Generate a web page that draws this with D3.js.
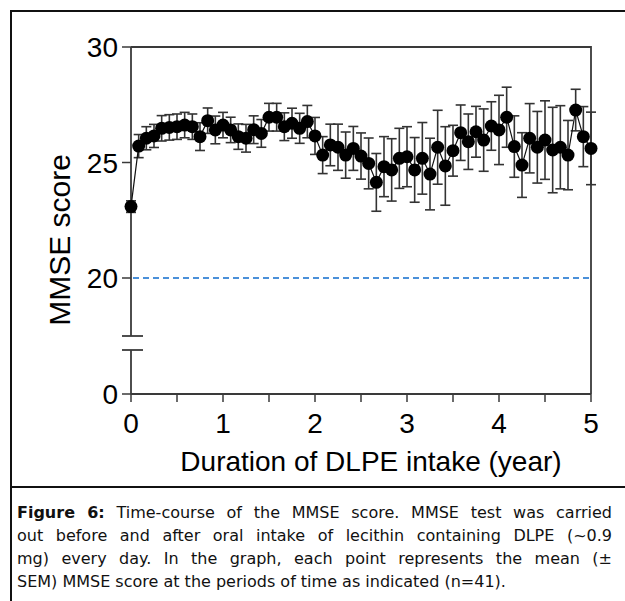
<!DOCTYPE html>
<head>
<style>
    body { margin: 0; background: white; }
    #caption { position: absolute; left: 17px; top: 501px; width: 595px;
        font-family: "DejaVu Sans", sans-serif; font-size: 16px; line-height: 23px; color: #111; }
    #caption span { display: block; text-align: justify; text-align-last: justify; white-space: nowrap; }
    #caption span.last { text-align-last: left; }
</style>
</head>

<body>
    <svg id="container" height="601" width="625"></svg>
    <div id="caption">
        <span><b>Figure 6:</b> Time-course of the MMSE score. MMSE test was carried</span>
        <span>out before and after oral intake of lecithin containing DLPE (~0.9</span>
        <span>mg) every day. In the graph, each point represents the mean (±</span>
        <span class="last">SEM) MMSE score at the periods of time as indicated (n=41).</span>
    </div>
</body>

<script src="https://d3js.org/d3.v7.min.js"></script>
<script>

    // months since start of intake
    let months = [0,1,2,3,4,5,6,7,8,9,10,11,12,13,14,15,16,17,18,19,20,
        21,22,23,24,25,26,27,28,29,30,31,32,33,34,35,36,37,38,39,40,
        41,42,43,44,45,46,47,48,49,50,51,52,53,54,55,56,57,58,59,60]

    let meanScore = [23.09,25.71,26.05,26.15,26.48,26.52,26.55,26.62,26.55,26.12,26.81,
        26.41,26.62,26.41,26.12,26.05,26.42,26.26,26.96,26.96,26.55,
        26.70,26.48,26.77,26.15,25.32,25.76,25.66,25.32,25.61,25.28,
        24.96,24.14,24.82,24.68,25.18,25.25,24.68,25.18,24.50,25.66,
        24.85,25.51,26.29,25.90,26.33,25.97,26.58,26.41,26.96,25.69,
        24.89,26.05,25.66,25.97,25.54,25.66,25.32,27.27,26.12,25.61]

    let semScore = [0.25,0.5,0.5,0.5,0.55,0.55,0.55,0.55,0.55,0.6,0.55,
        0.6,0.55,0.55,0.55,0.6,0.6,0.6,0.6,0.6,0.6,
        0.65,0.65,0.7,0.8,0.8,0.9,1.0,1.0,0.95,1.0,
        1.1,1.25,1.3,1.35,1.3,1.3,1.4,1.55,1.55,1.6,
        1.7,1.1,1.2,1.2,1.1,1.35,1.05,1.5,1.3,1.33,
        1.4,1.5,1.55,1.7,1.85,1.8,1.5,0.9,1.3,1.57]

    let xTicks = [0,0.5,1,1.5,2,2.5,3,3.5,4,4.5,5]
    let xLabels = [0,1,2,3,4,5]
    let yTicksUpper = [20,25,30]
    let cutoff = 20

    let svg = d3.select("#container")

    let pLeft = 131, pRight = 591, pTop = 47, pBottom = 394
    let breakTop = 336, breakBottom = 350

    let x = d3.scaleLinear().domain([0,5]).range([pLeft,pRight])
    let y = d3.scaleLinear().domain([20,30]).range([278,pTop])
    let yLow = d3.scaleLinear().domain([0,1]).range([pBottom,pBottom-23.1])

    let axisColor = "#3a3a3a"
    let font = "Liberation Sans, Arial, sans-serif"

    // outer frame
    svg.append("path")
        .attr("d","M11,601 L11,11 L625,11")
        .attr("fill","none").attr("stroke","#111").attr("stroke-width",2)
    svg.append("line")
        .attr("x1",11).attr("x2",625).attr("y1",487).attr("y2",487)
        .attr("stroke","#111").attr("stroke-width",2)

    // plot box top and right
    svg.append("path")
        .attr("d",`M${pLeft},${pTop} L${pRight},${pTop} L${pRight},${pBottom}`)
        .attr("fill","none").attr("stroke",axisColor).attr("stroke-width",1.8)

    // y axis with break
    svg.append("line").attr("x1",pLeft).attr("x2",pLeft).attr("y1",pTop).attr("y2",breakTop)
        .attr("stroke",axisColor).attr("stroke-width",1.8)
    svg.append("line").attr("x1",pLeft).attr("x2",pLeft).attr("y1",breakBottom).attr("y2",pBottom)
        .attr("stroke",axisColor).attr("stroke-width",1.8)
    svg.selectAll(".brk").data([breakTop,breakBottom]).enter().append("line")
        .attr("x1",pLeft-9).attr("x2",pLeft+12).attr("y1",d=>d).attr("y2",d=>d)
        .attr("stroke",axisColor).attr("stroke-width",1.8)

    // x axis
    svg.append("line").attr("x1",pLeft).attr("x2",pRight).attr("y1",pBottom).attr("y2",pBottom)
        .attr("stroke",axisColor).attr("stroke-width",1.8)
    svg.selectAll(".xt").data(xTicks).enter().append("line")
        .attr("x1",d=>x(d)).attr("x2",d=>x(d)).attr("y1",pBottom).attr("y2",pBottom+8)
        .attr("stroke",axisColor).attr("stroke-width",1.5)
    svg.selectAll(".xl").data(xLabels).enter().append("text")
        .attr("x",d=>x(d)).attr("y",433)
        .attr("text-anchor","middle")
        .style("font-family",font).style("font-size","28px")
        .text(d=>d)

    // y ticks
    let yTickPos = yTicksUpper.map(v=>({v:v, p:y(v)})).concat([{v:0, p:yLow(0)}])
    svg.selectAll(".yt").data(yTickPos).enter().append("line")
        .attr("x1",pLeft-9).attr("x2",pLeft).attr("y1",d=>d.p).attr("y2",d=>d.p)
        .attr("stroke",axisColor).attr("stroke-width",1.5)
    svg.selectAll(".yl").data(yTickPos).enter().append("text")
        .attr("x",pLeft-13).attr("y",d=>d.p+10)
        .attr("text-anchor","end")
        .style("font-family",font).style("font-size","28px")
        .text(d=>d.v)

    // axis titles
    svg.append("text")
        .attr("transform","translate(70,240) rotate(-90)")
        .attr("text-anchor","middle")
        .style("font-family",font).style("font-size","30px")
        .text("MMSE score")
    svg.append("text")
        .attr("x",(177+565)/2).attr("y",471)
        .attr("text-anchor","middle")
        .style("font-family",font).style("font-size","28px")
        .text("Duration of DLPE intake (year)")

    // cutoff line
    svg.append("line")
        .attr("x1",pLeft+2).attr("x2",pRight).attr("y1",y(cutoff)).attr("y2",y(cutoff))
        .attr("stroke","#4a90d9").attr("stroke-width",2).attr("stroke-dasharray","6,4")

    let data = months.map((m,i)=>({t:m/12, m:meanScore[i], s:semScore[i]}))

    // error bars
    let eb = svg.append("g").attr("stroke","#333").attr("stroke-width",1.6)
    eb.selectAll(".v").data(data).enter().append("line")
        .attr("x1",d=>x(d.t)).attr("x2",d=>x(d.t))
        .attr("y1",d=>y(d.m+d.s)).attr("y2",d=>y(d.m-d.s))
    eb.selectAll(".c1").data(data).enter().append("line")
        .attr("x1",d=>x(d.t)-5).attr("x2",d=>x(d.t)+5)
        .attr("y1",d=>y(d.m+d.s)).attr("y2",d=>y(d.m+d.s))
    eb.selectAll(".c2").data(data).enter().append("line")
        .attr("x1",d=>x(d.t)-5).attr("x2",d=>x(d.t)+5)
        .attr("y1",d=>y(d.m-d.s)).attr("y2",d=>y(d.m-d.s))

    // line
    svg.append("path")
        .attr("d", d3.line().x(d=>x(d.t)).y(d=>y(d.m))(data))
        .attr("fill","none").attr("stroke","#111").attr("stroke-width",1.2)

    // points
    svg.selectAll(".pt").data(data).enter().append("circle")
        .attr("cx",d=>x(d.t)).attr("cy",d=>y(d.m)).attr("r",6.5)
        .attr("fill","#000")

</script>
